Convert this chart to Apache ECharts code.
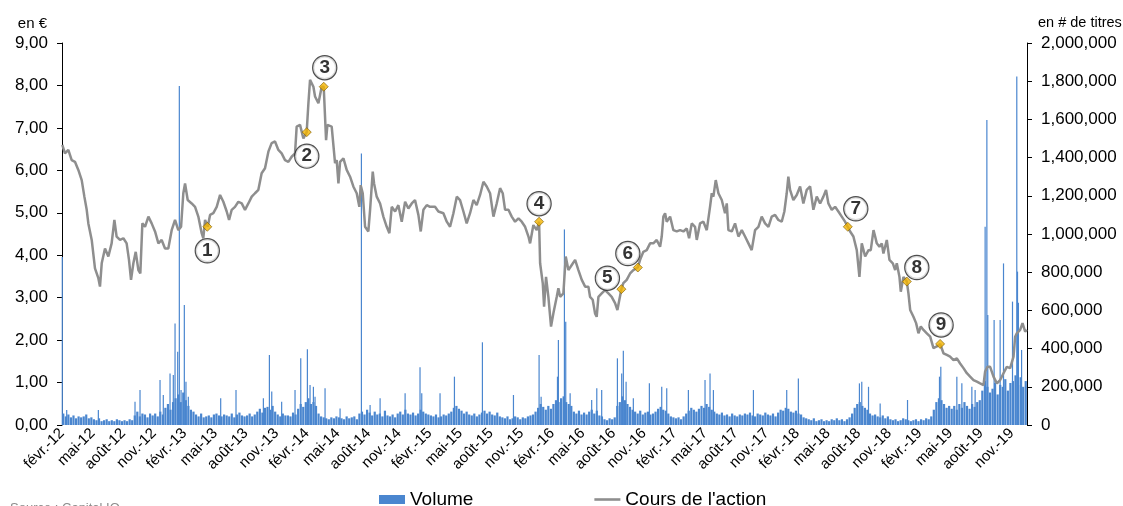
<!DOCTYPE html>
<html>
<head>
<meta charset="utf-8">
<script src="https://cdn.jsdelivr.net/npm/echarts@6/dist/echarts.min.js"></script>
<style>
html,body{margin:0;padding:0;background:#fff;}
#c{width:1123px;height:506px;}
</style>
</head>
<body>
<div id="c"></div>
<script>
// x values are months elapsed since 1 Feb 2012
const xTickLabels = ['févr.-12','mai-12','août-12','nov.-12','févr.-13','mai-13','août-13','nov.-13','févr.-14','mai-14','août-14','nov.-14','févr.-15','mai-15','août-15','nov.-15','févr.-16','mai-16','août-16','nov.-16','févr.-17','mai-17','août-17','nov.-17','févr.-18','mai-18','août-18','nov.-18','févr.-19','mai-19','août-19','nov.-19'];
const yLeftTicks = [0,1,2,3,4,5,6,7,8,9];
const yRightTicks = [0,200000,400000,600000,800000,1000000,1200000,1400000,1600000,1800000,2000000];

// share price (€): [month, price]
const pricePoints = [[0.03,6.60],[0.29,6.40],[0.62,6.48],[0.95,6.24],[1.27,6.20],[1.60,6.01],[1.93,5.77],[2.19,5.38],[2.42,5.07],[2.58,4.75],[2.91,4.36],[3.23,3.69],[3.56,3.46],[3.72,3.26],[3.89,3.81],[4.21,4.16],[4.54,3.97],[4.86,4.28],[5.13,4.83],[5.35,4.44],[5.68,4.36],[6.01,4.40],[6.33,4.28],[6.56,3.89],[6.76,3.42],[6.99,3.81],[7.22,4.08],[7.48,3.65],[7.67,3.57],[7.87,4.75],[8.13,4.67],[8.46,4.91],[8.78,4.75],[9.11,4.56],[9.44,4.28],[9.76,4.36],[10.09,4.16],[10.41,4.16],[10.74,4.59],[11.07,4.83],[11.39,4.59],[11.66,4.67],[11.88,5.46],[12.05,5.69],[12.31,5.30],[12.70,5.22],[13.03,5.14],[13.35,4.91],[13.68,4.52],[13.84,4.40],[14.01,4.83],[14.27,4.67],[14.50,4.95],[14.82,4.99],[15.15,5.14],[15.48,5.42],[15.80,5.26],[16.13,5.03],[16.36,4.83],[16.62,5.07],[16.94,5.14],[17.27,5.26],[17.60,5.22],[17.92,5.07],[18.25,5.22],[18.58,5.38],[18.90,5.46],[19.23,5.54],[19.55,5.93],[19.88,6.05],[20.21,6.44],[20.53,6.64],[20.86,6.68],[21.19,6.48],[21.51,6.40],[21.84,6.24],[22.17,6.20],[22.49,6.32],[22.82,6.40],[22.98,7.03],[23.31,7.07],[23.64,6.75],[23.96,6.90],[24.13,7.58],[24.29,8.13],[24.62,7.97],[24.78,7.74],[25.11,7.58],[25.43,7.97],[25.63,7.97],[25.86,6.71],[25.99,7.07],[26.41,7.03],[26.74,6.17],[26.90,6.24],[27.07,5.69],[27.23,6.20],[27.56,6.28],[27.88,6.01],[28.21,5.85],[28.53,5.62],[28.86,5.46],[29.12,5.14],[29.25,5.65],[29.45,5.46],[29.68,4.67],[30.00,4.56],[30.17,5.07],[30.43,5.97],[30.56,5.69],[30.82,5.38],[31.15,5.22],[31.47,4.91],[31.80,4.67],[32.06,4.52],[32.29,5.14],[32.62,5.03],[32.94,5.18],[33.27,4.79],[33.60,5.26],[33.92,5.10],[34.25,5.22],[34.57,5.30],[34.90,4.95],[35.13,4.56],[35.39,5.07],[35.72,5.18],[36.04,5.14],[36.53,5.14],[36.86,5.03],[37.35,4.99],[37.68,4.79],[38.00,4.67],[38.33,4.99],[38.66,5.38],[38.98,5.30],[39.31,5.03],[39.63,4.75],[39.96,4.99],[40.29,5.30],[40.61,5.18],[40.94,5.42],[41.27,5.73],[41.59,5.62],[41.92,5.46],[42.25,4.91],[42.57,5.22],[42.90,5.58],[43.16,5.46],[43.39,5.07],[43.72,5.07],[44.04,4.91],[44.37,4.79],[44.70,4.87],[45.02,4.79],[45.35,4.67],[45.68,4.44],[45.84,4.28],[46.16,4.71],[46.49,4.59],[46.72,4.79],[46.82,3.81],[47.08,3.34],[47.21,2.79],[47.40,3.49],[47.63,3.02],[47.89,2.32],[48.12,2.63],[48.45,3.02],[48.61,3.22],[48.78,3.02],[49.10,3.10],[49.33,3.97],[49.59,3.65],[49.92,3.77],[50.25,3.89],[50.57,3.65],[50.90,3.42],[51.23,3.26],[51.55,3.26],[51.71,3.02],[51.97,2.95],[52.20,2.63],[52.36,2.55],[52.53,3.02],[52.85,3.10],[53.18,3.18],[53.51,3.10],[53.83,3.02],[54.16,2.87],[54.39,2.71],[54.58,2.95],[54.78,3.20],[54.97,3.34],[55.30,3.42],[55.63,3.57],[55.95,3.65],[56.38,3.71],[56.61,3.89],[56.93,4.08],[57.26,4.12],[57.59,4.28],[57.91,4.28],[58.24,4.36],[58.57,4.20],[58.73,4.44],[58.89,4.91],[59.06,4.99],[59.22,4.79],[59.55,4.91],[59.87,4.59],[60.20,4.56],[60.53,4.59],[60.85,4.56],[61.18,4.63],[61.41,4.40],[61.67,4.75],[61.99,4.67],[62.16,4.36],[62.48,4.75],[62.81,4.79],[63.14,4.59],[63.46,5.14],[63.63,5.46],[63.79,5.38],[64.02,5.77],[64.28,5.46],[64.61,5.30],[64.93,4.99],[65.10,5.22],[65.26,4.59],[65.59,4.56],[65.91,4.75],[66.24,4.44],[66.57,4.59],[66.89,4.44],[67.22,4.28],[67.54,4.12],[67.87,4.59],[68.20,4.67],[68.52,4.91],[68.85,4.75],[69.18,4.67],[69.50,4.91],[69.83,4.95],[70.15,4.83],[70.48,4.79],[70.74,5.03],[70.97,5.46],[71.13,5.85],[71.30,5.54],[71.62,5.30],[71.95,5.42],[72.28,5.62],[72.60,5.22],[72.93,5.54],[73.26,5.62],[73.58,5.07],[73.91,5.38],[74.24,5.22],[74.56,5.38],[74.82,5.54],[75.05,5.22],[75.38,5.07],[75.71,5.14],[76.03,5.03],[76.36,4.91],[76.68,4.79],[76.95,4.67],[77.18,4.56],[77.50,4.44],[77.83,4.12],[78.09,3.49],[78.32,4.28],[78.49,4.32],[78.65,3.97],[78.98,4.12],[79.20,4.12],[79.47,4.59],[79.63,4.44],[79.79,4.28],[80.05,4.20],[80.28,4.28],[80.44,4.04],[80.77,4.36],[81.03,3.89],[81.36,3.81],[81.59,3.65],[81.75,3.81],[82.01,3.49],[82.14,3.14],[82.40,3.49],[82.73,3.38],[82.89,3.10],[83.06,2.71],[83.38,2.55],[83.64,2.40],[83.87,2.16],[84.10,2.32],[84.36,2.24],[84.69,2.16],[85.02,2.08],[85.34,1.81],[85.67,1.85],[86.00,1.91],[86.32,1.69],[86.65,1.65],[86.97,1.61],[87.30,1.53],[87.63,1.57],[87.95,1.45],[88.28,1.34],[88.61,1.22],[88.93,1.14],[89.26,1.06],[89.59,1.02],[89.91,0.98],[90.24,0.94],[90.40,1.26],[90.63,1.37],[90.89,1.37],[91.22,1.14],[91.55,0.98],[91.87,1.06],[92.20,1.22],[92.52,1.37],[92.85,1.34],[93.18,1.61],[93.34,2.08],[93.50,2.16],[93.83,2.24],[94.06,2.40],[94.32,2.20],[94.48,2.24]];

// weekly volume (thousands of shares), one value per quarter month starting Feb 2012
const volumeWeekly = [60,45,55,40, 50,35,45,40, 45,55,35,40, 30,25,35,20, 25,30,20,25, 20,30,25,20, 25,20,30,25, 50,70,45,60,
55,40,60,50, 60,45,70,55, 90,110,80,120, 140,160,120,170, 130,100,80,70, 55,45,60,40, 45,50,40,55, 60,50,45,55,
50,45,60,40, 55,65,50,45, 50,60,45,55, 70,85,65,90, 95,80,100,70, 55,45,60,50, 50,45,65,55, 85,110,95,120,
140,110,120,100, 60,45,40,35, 30,40,35,45, 40,35,30,45, 35,40,45,30, 60,70,55,80, 65,50,70,55, 60,45,75,50,
45,55,40,60, 70,55,80,60, 55,65,50,60, 80,70,60,55, 50,45,55,40, 45,55,50,60, 70,90,100,85, 75,60,70,55,
50,60,45,55, 65,75,60,70, 55,50,65,45, 40,35,45,30, 35,45,40,30, 40,35,45,50, 55,70,90,110, 95,80,100,85,
110,130,120,140, 150,120,110,100, 70,60,75,55, 65,55,70,80, 60,75,50,45, 30,25,35,30, 40,100,120,150, 130,110,95,80,
70,60,75,55, 65,70,55,60, 70,85,95,80, 75,60,45,40, 35,40,30,45, 60,75,90,80, 70,85,100,90, 110,95,80,70,
60,55,65,50, 55,45,60,50, 45,55,50,60, 55,65,50,45, 60,55,50,65, 55,50,60,45, 65,80,75,90, 85,70,65,75,
60,55,40,35, 30,25,35,20, 25,30,20,25, 20,30,25,35, 25,30,20,30, 40,60,90,110, 120,100,90,80, 60,50,55,45,
40,50,35,45, 30,25,30,20, 25,35,30,25, 20,25,30,20, 30,25,35,30, 45,80,120,140, 130,110,90,100, 85,100,80,110,
90,120,100,85, 110,95,120,130, 180,230,200,170, 190,220,160,210, 200,240,180,220, 230,260,210,250, 200,230];

// daily volume peaks (thousands of shares): [month, volume]
const volumeSpikes = [[0.03,880],[0.46,78],[3.56,78],[7.15,122],[7.64,183],[9.60,235],[9.92,157],[10.58,270],[10.90,262],[11.07,532],[11.33,384],[11.49,1775],[11.66,183],[11.98,628],[12.14,227],[12.37,148],[15.54,140],[17.04,183],[19.72,140],[20.31,366],[20.54,175],[21.51,122],[22.82,183],[23.38,349],[24.03,396],[24.29,209],[24.62,200],[24.78,148],[25.76,192],[27.23,87],[29.32,1422],[30.17,105],[31.15,140],[33.60,166],[35.06,302],[35.23,166],[37.02,166],[38.43,253],[41.17,433],[44.21,157],[46.72,366],[46.92,148],[48.52,253],[48.61,445],[49.20,1024],[49.33,541],[49.76,166],[51.87,131],[52.37,192],[52.85,183],[54.39,349],[54.81,270],[54.97,389],[55.24,227],[55.95,140],[57.52,218],[58.73,200],[59.22,192],[61.34,183],[62.97,235],[63.46,270],[63.79,183],[67.71,183],[70.97,183],[72.11,244],[78.09,218],[78.32,227],[78.98,200],[80.12,113],[82.80,131],[85.93,253],[86.06,305],[87.63,253],[88.12,218],[89.10,200],[89.42,183],[90.40,1038],[90.57,1597],[90.66,576],[91.28,550],[91.87,550],[92.20,846],[93.08,646],[93.50,1824],[93.57,803],[93.66,640],[93.97,393]];

// numbered events on the price line: [month, price]
const eventPoints = [[14.23,4.67],[23.97,6.90],[25.63,7.97],[46.72,4.79],[54.78,3.20],[56.39,3.71],[76.95,4.67],[82.73,3.38],[85.99,1.91]];
const eventLabels = ['1','2','3','4','5','6','7','8','9'];
</script>
<script>
// layout: callout offsets (px) for numbered circles
const calloutOffsets = [[0,24],[0,24],[1,-19],[0,-18],[-14,-11],[-10,-14],[8,-18],[10,-14],[1,-19]];
const FONT = "'Liberation Sans', Arial, sans-serif";
const BLUE = '#4a86cf';
const GREY = '#8e8e8e';

const chart = echarts.init(document.getElementById('c'), null, {renderer: 'canvas'});

const weeklyData = volumeWeekly.map((v, i) => [i * 0.25 + 0.125, v * 1000]);
const spikeData = volumeSpikes.map(d => [d[0], d[1] * 1000]);

const xBase = {
  type: 'value', min: 0, max: 94.5, interval: 3,
  axisLine: {show: false, onZero: false}, axisTick: {show: false}, splitLine: {show: false}
};

const option = {
  animation: false,
  textStyle: {fontFamily: FONT},
  grid: {left: 62, right: 96, top: 43, bottom: 81, containLabel: false},
  legend: {
    left: 374, top: 485, itemWidth: 26, itemHeight: 9, itemGap: 121,
    textStyle: {fontSize: 19, color: '#000', fontFamily: FONT},
    data: [
      {name: 'Volume', icon: 'rect'},
      {name: "Cours de l'action", icon: 'path://M0,0H26V2.6H0Z', itemStyle: {color: GREY}}
    ]
  },
  xAxis: [
    Object.assign({}, xBase, {
      axisLabel: {
        rotate: 45, fontSize: 15, color: '#000', margin: 6, fontFamily: FONT,
        showMaxLabel: false,
        formatter: v => {
          const k = Math.round(v / 3);
          return (Math.abs(v - k * 3) < 1e-6 && xTickLabels[k]) ? xTickLabels[k] : '';
        }
      }
    }),
    Object.assign({}, xBase, {show: false})
  ],
  yAxis: [
    {
      type: 'value', position: 'left', min: yLeftTicks[0], max: yLeftTicks[yLeftTicks.length - 1], interval: 1,
      axisLine: {show: true, onZero: false, lineStyle: {color: '#000', width: 1}},
      axisTick: {show: true, inside: false, length: 5, lineStyle: {color: '#000'}},
      splitLine: {show: false},
      axisLabel: {fontSize: 17, color: '#000', margin: 14, fontFamily: FONT,
        formatter: v => v.toFixed(2).replace('.', ',')}
    },
    {
      type: 'value', position: 'right', min: yRightTicks[0], max: yRightTicks[yRightTicks.length - 1], interval: 200000,
      axisLine: {show: true, onZero: false, lineStyle: {color: '#000', width: 1}},
      axisTick: {show: true, inside: false, length: 5, lineStyle: {color: '#000'}},
      splitLine: {show: false},
      axisLabel: {fontSize: 17, color: '#000', margin: 14, fontFamily: FONT,
        formatter: v => v.toLocaleString('en-US')}
    }
  ],
  graphic: [
    {type: 'text', x: 47, y: 24, style: {text: 'en €', fill: '#000', font: '15px ' + FONT, align: 'right', verticalAlign: 'middle'}},
    {type: 'text', x: 1038, y: 23, style: {text: 'en # de titres', fill: '#000', font: '14.5px ' + FONT, align: 'left', verticalAlign: 'middle'}},
    {type: 'text', x: 10, y: 502, style: {text: 'Source : Capital IQ', fill: '#8c8c8c', font: '13px ' + FONT, align: 'left', verticalAlign: 'top'}}
  ],
  series: [
    {
      name: 'Volume', type: 'bar', xAxisIndex: 1, yAxisIndex: 1,
      barWidth: 2.2, itemStyle: {color: BLUE}, data: weeklyData, z: 1
    },
    {
      name: 'Volume', type: 'bar', xAxisIndex: 0, yAxisIndex: 1,
      barWidth: 1.2, itemStyle: {color: BLUE}, data: spikeData, z: 1
    },
    {
      name: "Cours de l'action", type: 'line', xAxisIndex: 0, yAxisIndex: 0,
      symbol: 'none', showSymbol: false, data: pricePoints,
      lineStyle: {color: GREY, width: 2.5}, itemStyle: {color: GREY}, z: 3
    },
    {
      name: 'events', type: 'scatter', xAxisIndex: 0, yAxisIndex: 0,
      symbol: 'diamond', symbolSize: 9, z: 5,
      itemStyle: {color: '#f4b400', borderColor: '#7a5a00', borderWidth: 0.8},
      data: eventPoints.map((d, i) => ({
        value: d,
        label: {offset: calloutOffsets[i]}
      })),
      label: {
        show: true, position: 'inside',
        formatter: p => '{c|' + eventLabels[p.dataIndex] + '}',
        rich: {
          c: {width: 23, height: 23, lineHeight: 23, borderRadius: 12, borderColor: '#222', borderWidth: 1.2,
              backgroundColor: '#fff', align: 'center', verticalAlign: 'middle',
              fontWeight: 'bold', fontSize: 19, color: '#000', fontFamily: FONT}
        }
      }
    }
  ]
};
chart.setOption(option);
</script>
</body>
</html>
